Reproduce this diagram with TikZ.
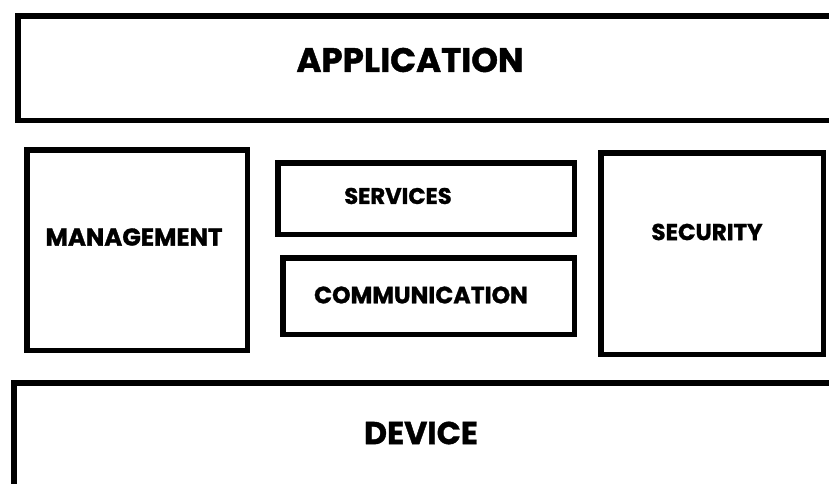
\documentclass[tikz,border=0pt]{standalone}
\usepackage{fontspec}
\setmainfont{Poppins}[BoldFeatures={FakeBold=1.2}]
\usepackage{tikz}

\begin{document}
\begin{tikzpicture}[x=1pt,y=-1pt]
\tikzset{
  layer/.style={draw=black, line width=5.5pt, inner sep=0pt, outer sep=0pt},
  txt/.style={inner sep=0pt, font=\bfseries}
}
\useasboundingbox (0,0) rectangle (829,483);
\clip (0,0) rectangle (829,483);
% layer boxes
\node [layer, minimum width=820pt, minimum height=104.5pt] (app) at (427.75,68) {};
\node [layer, minimum width=220.5pt, minimum height=200.5pt] (mgmt) at (137,250) {};
\node [layer, minimum width=296.5pt, minimum height=71.5pt] (serv) at (426,198.5) {};
\node [layer, minimum width=291.5pt, minimum height=76.5pt] (comm) at (428.5,296) {};
\node [layer, minimum width=222.5pt, minimum height=201.5pt] (sec) at (712,253.5) {};
\node [layer, minimum width=830pt, minimum height=140pt] (dev) at (428.75,452.75) {};
% labels
\node [txt, font=\fontsize{34}{36}\selectfont\bfseries] (applbl) at (410,60) {APPLICATION};
\node [txt, font=\fontsize{24.4}{26}\selectfont\bfseries] (mgmtlbl) at (134,237) {MANAGEMENT};
\node [txt, font=\fontsize{22.6}{24}\selectfont\bfseries] (servlbl) at (398,196) {SERVICES};
\node [txt, font=\fontsize{23.6}{25}\selectfont\bfseries] (commlbl) at (421,295) {COMMUNICATION};
\node [txt, font=\fontsize{23}{24}\selectfont\bfseries] (seclbl) at (707,232) {SECURITY};
\node [txt, font=\fontsize{31.7}{33}\selectfont\bfseries] (devlbl) at (421,433) {DEVICE};
\end{tikzpicture}
\end{document}
